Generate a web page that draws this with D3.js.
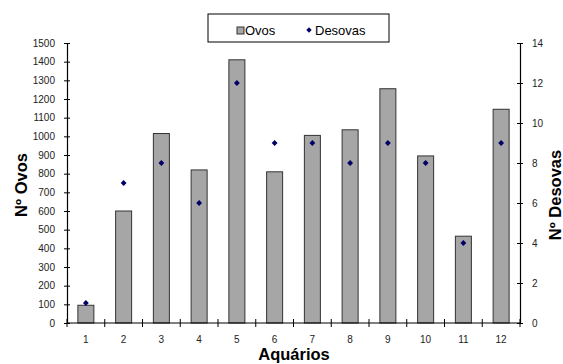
<!DOCTYPE html>
<html>
<head>
<meta charset="utf-8">
<script src="https://cdn.jsdelivr.net/npm/d3@7"></script>
<style>
  body { margin: 0; background: #fff; }
</style>
</head>
<body>
<div id="chart-area"></div>
<script>
const aquarios = ["1", "2", "3", "4", "5", "6", "7", "8", "9", "10", "11", "12"]
const ovos = [95, 600, 1015, 820, 1410, 810, 1005, 1035, 1255, 895, 465, 1145]
const desovas = [1, 7, 8, 6, 12, 9, 9, 8, 9, 8, 4, 9]
const ovosTicks = d3.range(0, 1501, 100)
const desovasTicks = d3.range(0, 15, 2)

const FONT = "'Liberation Sans', Arial, Helvetica, sans-serif"
const MARGIN = { LEFT: 67, RIGHT: 43, TOP: 43, BOTTOM: 41 }
const W = 563, H = 364
const WIDTH = W - MARGIN.LEFT - MARGIN.RIGHT
const HEIGHT = H - MARGIN.TOP - MARGIN.BOTTOM

const svg = d3.select("#chart-area").append("svg")
  .attr("width", W)
  .attr("height", H)
  .attr("font-family", FONT)

const g = svg.append("g")
  .attr("transform", `translate(${MARGIN.LEFT}, ${MARGIN.TOP})`)

const band = d3.scaleBand().domain(aquarios).range([0, WIDTH])
const yL = d3.scaleLinear().domain([0, 1500]).range([HEIGHT, 0])
const yR = d3.scaleLinear().domain([0, 14]).range([HEIGHT, 0])

// bars
g.selectAll("rect.bar")
  .data(aquarios)
  .enter().append("rect")
  .attr("class", "bar")
  .attr("x", (d) => band(d) + band.bandwidth() / 2 - 8)
  .attr("width", 16)
  .attr("y", (d, i) => yL(ovos[i]))
  .attr("height", (d, i) => HEIGHT - yL(ovos[i]))
  .attr("fill", "#a6a6a6")
  .attr("stroke", "#333")
  .attr("stroke-width", 1)

// diamonds
g.selectAll("path.pt")
  .data(aquarios)
  .enter().append("path")
  .attr("class", "pt")
  .attr("d", d3.symbol(d3.symbolDiamond2, 22))
  .attr("transform", (d, i) => `translate(${band(d) + band.bandwidth() / 2}, ${yR(desovas[i])})`)
  .attr("fill", "#000066")

// axes
const axisStyle = (sel) => {
  sel.attr("font-family", FONT)
  sel.select(".domain").attr("stroke", "#000").attr("stroke-width", 1.2)
  sel.selectAll(".tick text").attr("font-size", "10px").attr("fill", "#222")
  sel.selectAll(".tick line").attr("stroke", "#000")
}

const leftAxis = g.append("g")
  .call(d3.axisLeft(yL).tickValues(ovosTicks).tickFormat(d3.format("d"))
    .tickSizeOuter(0).tickSize(3).tickPadding(9))
  .call(axisStyle)
leftAxis.selectAll(".tick line").attr("x2", 3).attr("x1", -3)

const rightAxis = g.append("g")
  .attr("transform", `translate(${WIDTH}, 0)`)
  .call(d3.axisRight(yR).tickValues(desovasTicks).tickFormat(d3.format("d"))
    .tickSizeOuter(0).tickSize(3).tickPadding(9))
  .call(axisStyle)
rightAxis.selectAll(".tick line").attr("x1", -3).attr("x2", 3)

const bottomAxis = g.append("g")
  .attr("transform", `translate(0, ${HEIGHT})`)
  .call(d3.axisBottom(band).tickSizeOuter(0).tickSize(0).tickPadding(13))
  .call(axisStyle)
bottomAxis.select(".domain").attr("d", `M0,0H${WIDTH}`)
bottomAxis.selectAll(".sep")
  .data(d3.range(0, 13))
  .enter().append("line")
  .attr("class", "sep")
  .attr("x1", (d) => d * band.step())
  .attr("x2", (d) => d * band.step())
  .attr("y1", -4)
  .attr("y2", 4)
  .attr("stroke", "#000")

// axis titles
svg.append("text")
  .attr("transform", "translate(27, 185) rotate(-90)")
  .attr("text-anchor", "middle")
  .attr("font-size", "16.5px")
  .attr("font-weight", "bold")
  .text("Nº Ovos")

svg.append("text")
  .attr("transform", "translate(561, 195) rotate(-90)")
  .attr("text-anchor", "middle")
  .attr("font-size", "16.5px")
  .attr("font-weight", "bold")
  .text("Nº Desovas")

svg.append("text")
  .attr("x", 294)
  .attr("y", 360)
  .attr("text-anchor", "middle")
  .attr("font-size", "16.5px")
  .attr("font-weight", "bold")
  .text("Aquários")

// legend
const legend = svg.append("g").attr("transform", "translate(208, 14)")
legend.append("rect")
  .attr("width", 181).attr("height", 28)
  .attr("fill", "#fff").attr("stroke", "#000")
legend.append("rect")
  .attr("x", 29).attr("y", 13).attr("width", 7).attr("height", 7)
  .attr("fill", "#a6a6a6").attr("stroke", "#333")
legend.append("text")
  .attr("x", 37).attr("y", 20.5).attr("font-size", "13px").text("Ovos")
legend.append("path")
  .attr("d", d3.symbol(d3.symbolDiamond2, 18))
  .attr("transform", "translate(101, 16)")
  .attr("fill", "#000066")
legend.append("text")
  .attr("x", 107).attr("y", 20.5).attr("font-size", "13px").text("Desovas")
</script>
</body>
</html>
